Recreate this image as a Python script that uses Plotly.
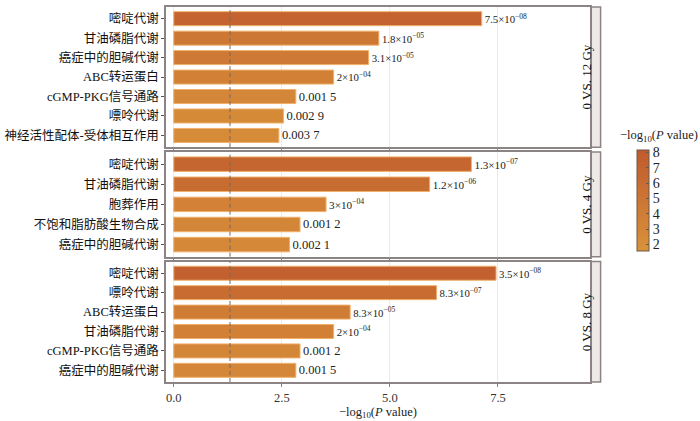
import numpy as np
import plotly.graph_objects as go
from plotly.subplots import make_subplots

# pathway names per comparison, top to bottom
panels = ["0 VS. 12 Gy", "0 VS. 4 Gy", "0 VS. 8 Gy"]

paths_12 = ["嘧啶代谢", "甘油磷脂代谢", "癌症中的胆碱代谢", "ABC转运蛋白",
            "cGMP-PKG信号通路", "嘌呤代谢", "神经活性配体-受体相互作用"]
pval_12 = [7.5e-08, 1.8e-05, 3.1e-05, 2e-04, 0.0015, 0.0029, 0.0037]
text_12 = ["7.5×10<sup>−08</sup>", "1.8×10<sup>−05</sup>", "3.1×10<sup>−05</sup>",
           "2×10<sup>−04</sup>", "0.001 5", "0.002 9", "0.003 7"]

paths_4 = ["嘧啶代谢", "甘油磷脂代谢", "胞葬作用", "不饱和脂肪酸生物合成", "癌症中的胆碱代谢"]
pval_4 = [1.3e-07, 1.2e-06, 3e-04, 0.0012, 0.0021]
text_4 = ["1.3×10<sup>−07</sup>", "1.2×10<sup>−06</sup>", "3×10<sup>−04</sup>",
          "0.001 2", "0.002 1"]

paths_8 = ["嘧啶代谢", "嘌呤代谢", "ABC转运蛋白", "甘油磷脂代谢",
           "cGMP-PKG信号通路", "癌症中的胆碱代谢"]
pval_8 = [3.5e-08, 8.3e-07, 8.3e-05, 2e-04, 0.0012, 0.0015]
text_8 = ["3.5×10<sup>−08</sup>", "8.3×10<sup>−07</sup>", "8.3×10<sup>−05</sup>",
          "2×10<sup>−04</sup>", "0.001 2", "0.001 5"]

x_ticks = [0, 2.5, 5, 7.5]
x_ticktext = ["0.0", "2.5", "5.0", "7.5"]
cbar_ticks = [2, 3, 4, 5, 6, 7, 8]

FONT = "Liberation Serif, Times New Roman, Noto Sans CJK SC"
SCALE = [[0, "#D9923A"], [1, "#C05A2E"]]
CMIN, CMAX = 1.55, 8.15

groups = [(paths_12, pval_12, text_12), (paths_4, pval_4, text_4), (paths_8, pval_8, text_8)]

fig = make_subplots(rows=3, cols=1, shared_xaxes=True,
                    row_heights=[142, 106, 122], vertical_spacing=5 / 380)

for i, (paths, pvals, texts) in enumerate(groups):
    logp = -np.log10(pvals)
    fig.add_trace(
        go.Bar(
            x=logp, y=paths, orientation="h", width=0.72,
            marker=dict(color=logp, colorscale=SCALE, cmin=CMIN, cmax=CMAX,
                        line=dict(color="#F0B06A", width=1),
                        showscale=(i == 0),
                        colorbar=dict(x=1.112, xanchor="left", xpad=0,
                                      y=0.618, yanchor="top", ypad=0,
                                      len=0.268, lenmode="fraction", thickness=12,
                                      outlinecolor="#6b5a4a", outlinewidth=1,
                                      tickvals=cbar_ticks, ticks="inside", ticklen=3,
                                      tickcolor="#6b5a4a",
                                      tickfont=dict(family=FONT, size=14, color="#222"))),
            text=texts, textposition="outside", cliponaxis=False,
            textfont=dict(family=FONT, size=12.5, color="#222"),
            showlegend=False,
        ),
        row=i + 1, col=1,
    )
    n = len(paths)
    fig.update_yaxes(range=[n - 0.4, -0.6], row=i + 1, col=1)
    # p = 0.05 reference line
    fig.add_shape(type="line", x0=-np.log10(0.05), x1=-np.log10(0.05), y0=0, y1=1,
                  xref=f"x{'' if i == 0 else i + 1}",
                  yref=f"y{'' if i == 0 else i + 1} domain",
                  line=dict(color="#6f6a66", width=1, dash="4px,3px"), layer="above")

fig.update_xaxes(range=[-0.18, 9.63], tickvals=x_ticks, ticktext=x_ticktext,
                 showgrid=True, gridcolor="#EEEAEA", gridwidth=1, zeroline=False,
                 showline=True, linecolor="#8c8484", linewidth=1.5, mirror=True,
                 ticks="outside", ticklen=3, tickcolor="#8c8484",
                 tickfont=dict(family=FONT, size=12.5, color="#333"))
fig.update_xaxes(title=dict(text="−log<sub>10</sub>(<i>P</i> value)", standoff=2,
                            font=dict(family=FONT, size=12.5, color="#222")), row=3, col=1)
fig.update_yaxes(showgrid=False, zeroline=False, showline=True, linecolor="#8c8484",
                 linewidth=1.5, mirror=True, ticks="outside", ticklen=3,
                 tickcolor="#555", tickfont=dict(family=FONT, size=12.5, color="#111"))

# facet strips on the right
for i, name in enumerate(panels):
    yref = f"y{'' if i == 0 else i + 1} domain"
    fig.add_shape(type="rect", xref="paper", yref=yref, x0=1.003, x1=1.025, y0=0, y1=1,
                  fillcolor="#EEE9E6", line=dict(color="#8c8484", width=1.5))
    fig.add_annotation(text=name, xref="paper", yref=yref, x=1.014, y=0.5,
                       textangle=-90, showarrow=False,
                       font=dict(family=FONT, size=13, color="#111"))

fig.add_annotation(text="−log<sub>10</sub>(<i>P</i> value)", xref="paper", yref="paper",
                   x=1.162, y=0.63, xanchor="center", yanchor="bottom", showarrow=False,
                   font=dict(family=FONT, size=12.5, color="#222"))

fig.update_layout(width=700, height=421, margin=dict(l=163, r=110, t=5, b=36),
                  plot_bgcolor="white", paper_bgcolor="white", bargap=0.28,
                  font=dict(family=FONT))

fig.write_html("out.html", config={"displayModeBar": False},
               post_script="document.body.style.margin='0';")
